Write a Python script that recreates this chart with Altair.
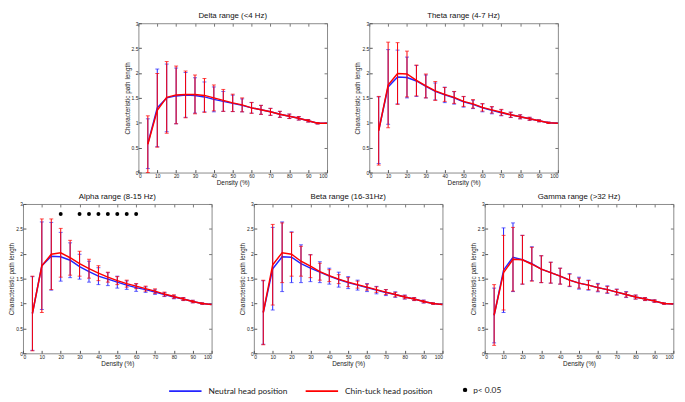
import altair as alt
import pandas as pd

# ---------------- data ----------------
density = [5, 10, 15, 20, 25, 30, 35, 40, 45, 50, 55, 60, 65, 70, 75, 80, 85, 90, 95, 100]
err_density = [5, 10, 15, 20, 25, 30, 35, 40, 45, 50, 55, 60, 65, 70, 75, 80, 85, 90, 95]

groups = ["Neutral head position", "Chin-tuck head position"]

delta_neutral_mean = [0.58, 1.30, 1.50, 1.54, 1.56, 1.55, 1.52, 1.47, 1.43, 1.39, 1.35, 1.30, 1.26, 1.22, 1.17, 1.13, 1.09, 1.04, 0.99, 0.99]
delta_neutral_sd = [0.50, 0.78, 0.68, 0.56, 0.45, 0.355, 0.30, 0.25, 0.20, 0.165, 0.13, 0.105, 0.09, 0.07, 0.06, 0.045, 0.035, 0.025, 0.015]
delta_chin_mean = [0.57, 1.25, 1.51, 1.56, 1.57, 1.57, 1.55, 1.50, 1.45, 1.40, 1.36, 1.30, 1.26, 1.22, 1.17, 1.13, 1.09, 1.04, 0.99, 0.99]
delta_chin_sd = [0.57, 0.74, 0.72, 0.58, 0.47, 0.39, 0.34, 0.26, 0.22, 0.175, 0.14, 0.11, 0.09, 0.07, 0.06, 0.045, 0.035, 0.025, 0.015]

theta_neutral_mean = [0.85, 1.72, 1.92, 1.91, 1.84, 1.73, 1.63, 1.56, 1.50, 1.42, 1.37, 1.30, 1.25, 1.20, 1.16, 1.12, 1.08, 1.04, 1.00, 0.99]
theta_neutral_sd = [0.67, 0.75, 0.54, 0.41, 0.31, 0.23, 0.17, 0.155, 0.125, 0.105, 0.085, 0.08, 0.07, 0.06, 0.055, 0.04, 0.03, 0.02, 0.015]
theta_chin_mean = [0.84, 1.76, 1.99, 1.98, 1.85, 1.74, 1.64, 1.57, 1.51, 1.43, 1.38, 1.31, 1.26, 1.21, 1.16, 1.12, 1.08, 1.04, 1.00, 0.99]
theta_chin_sd = [0.69, 0.86, 0.62, 0.46, 0.31, 0.24, 0.19, 0.14, 0.12, 0.10, 0.085, 0.075, 0.065, 0.06, 0.05, 0.04, 0.03, 0.02, 0.015]

alpha_neutral_mean = [0.80, 1.76, 1.95, 1.94, 1.87, 1.74, 1.64, 1.55, 1.49, 1.43, 1.37, 1.32, 1.28, 1.23, 1.18, 1.13, 1.09, 1.04, 1.00, 0.98]
alpha_neutral_sd = [0.74, 0.88, 0.68, 0.49, 0.35, 0.25, 0.21, 0.17, 0.13, 0.12, 0.085, 0.075, 0.055, 0.045, 0.04, 0.035, 0.03, 0.025, 0.015]
alpha_chin_mean = [0.80, 1.76, 1.99, 2.02, 1.92, 1.80, 1.70, 1.61, 1.53, 1.46, 1.40, 1.35, 1.30, 1.25, 1.19, 1.14, 1.09, 1.04, 1.00, 0.98]
alpha_chin_sd = [0.75, 0.94, 0.71, 0.49, 0.35, 0.25, 0.19, 0.15, 0.10, 0.08, 0.07, 0.05, 0.05, 0.045, 0.04, 0.035, 0.03, 0.025, 0.015]
alpha_sig_density = [20, 30, 35, 40, 45, 50, 55, 60]
alpha_sig_y = [2.8, 2.8, 2.8, 2.8, 2.8, 2.8, 2.8, 2.8]

beta_neutral_mean = [0.82, 1.70, 1.94, 1.93, 1.80, 1.71, 1.63, 1.55, 1.48, 1.42, 1.37, 1.32, 1.27, 1.22, 1.18, 1.13, 1.09, 1.04, 1.00, 0.98]
beta_neutral_sd = [0.64, 0.83, 0.70, 0.51, 0.38, 0.27, 0.21, 0.16, 0.15, 0.12, 0.10, 0.08, 0.075, 0.06, 0.055, 0.04, 0.03, 0.03, 0.015]
beta_chin_mean = [0.82, 1.78, 2.02, 1.99, 1.85, 1.75, 1.64, 1.56, 1.49, 1.43, 1.38, 1.33, 1.28, 1.23, 1.18, 1.13, 1.09, 1.04, 1.00, 0.98]
beta_chin_sd = [0.65, 0.81, 0.60, 0.44, 0.30, 0.23, 0.17, 0.12, 0.09, 0.09, 0.07, 0.06, 0.055, 0.05, 0.045, 0.035, 0.03, 0.025, 0.015]

gamma_neutral_mean = [0.76, 1.67, 1.93, 1.88, 1.80, 1.69, 1.62, 1.55, 1.47, 1.41, 1.37, 1.32, 1.28, 1.23, 1.18, 1.13, 1.09, 1.05, 1.00, 0.99]
gamma_neutral_sd = [0.55, 0.85, 0.69, 0.49, 0.34, 0.27, 0.21, 0.16, 0.13, 0.12, 0.10, 0.085, 0.075, 0.06, 0.06, 0.04, 0.03, 0.025, 0.015]
gamma_chin_mean = [0.77, 1.62, 1.89, 1.88, 1.79, 1.69, 1.62, 1.55, 1.47, 1.41, 1.37, 1.32, 1.28, 1.23, 1.18, 1.13, 1.09, 1.05, 1.00, 0.99]
gamma_chin_sd = [0.61, 0.75, 0.64, 0.49, 0.34, 0.27, 0.21, 0.16, 0.12, 0.10, 0.09, 0.07, 0.065, 0.055, 0.05, 0.04, 0.03, 0.025, 0.015]

x_ticks = [0, 10, 20, 30, 40, 50, 60, 70, 80, 90, 100]
y_ticks = [0, 0.5, 1, 1.5, 2, 2.5, 3]

# ---------------- styling ----------------
W, H = 192, 152
BLUE = "#2424ff"
RED = "#ff0000"
FONT = "Liberation Sans"
LFONT = "Lato"

XAX = alt.Axis(title="Density (%)", values=x_ticks, offset=-3, tickSize=3, domain=False, grid=False,
               labelFontSize=5, titleFontSize=6.5, labelPadding=1, titlePadding=1, minExtent=0,
               tickColor="#555555", labelColor="#222222", titleColor="#222222",
               titleFontWeight="normal", labelFont=FONT, titleFont=FONT)
YAX = alt.Axis(title="Characteristic path length", values=y_ticks, format="~g", offset=-3, tickSize=3,
               domain=False, grid=False, labelFontSize=5, titleFontSize=6.5, labelPadding=0.5,
               titlePadding=1, minExtent=0,
               tickColor="#555555", labelColor="#222222", titleColor="#222222",
               titleFontWeight="normal", labelFont=FONT, titleFont=FONT)
XTOP = alt.Axis(orient="top", values=x_ticks, offset=-3, tickSize=3, labels=False, domain=False,
                grid=False, title=None, tickColor="#777777", minExtent=0, maxExtent=0)
YRIGHT = alt.Axis(orient="right", values=y_ticks, offset=-3, tickSize=3, labels=False, domain=False,
                  grid=False, title=None, tickColor="#777777", minExtent=0, maxExtent=0)

XS = alt.Scale(domain=[0, 100], nice=False)
YS = alt.Scale(domain=[0, 3], nice=False)

COLOR = alt.Color("position:N", scale=alt.Scale(domain=groups, range=[BLUE, RED]),
                  legend=alt.Legend(title=None, orient="none", legendX=148, legendY=357,
                                    direction="horizontal", symbolType="stroke", symbolSize=1089,
                                    symbolStrokeWidth=1.8, labelFontSize=8.5, labelFont=LFONT,
                                    labelColor="#222222", columnPadding=14, labelOffset=6))


def series_layers(pos, means, sds, col):
    line_df = pd.DataFrame({"density": density, "mean": means, "position": pos})
    err_df = pd.DataFrame({
        "density": err_density,
        "lo": [m - s for m, s in zip(means, sds)],
        "hi": [m + s for m, s in zip(means, sds)],
    })
    x = alt.X("density:Q", scale=XS, axis=XAX)
    eb = alt.Chart(err_df)
    rule = eb.mark_rule(color=col, strokeWidth=1).encode(
        x=x, y=alt.Y("lo:Q", scale=YS, axis=YAX), y2="hi:Q")
    cap_lo = eb.mark_tick(orient="horizontal", size=4, thickness=1, color=col).encode(
        x=x, y=alt.Y("lo:Q", scale=YS, axis=YAX))
    cap_hi = eb.mark_tick(orient="horizontal", size=4, thickness=1, color=col).encode(
        x=x, y=alt.Y("hi:Q", scale=YS, axis=YAX))
    line = alt.Chart(line_df).mark_line(strokeWidth=1.5).encode(
        x=x, y=alt.Y("mean:Q", scale=YS, axis=YAX), color=COLOR)
    return [rule, cap_lo, cap_hi, line], line_df


def panel(title, n_mean, n_sd, c_mean, c_sd, sig=None):
    blue_layers, _ = series_layers(groups[0], n_mean, n_sd, BLUE)
    red_layers, red_df = series_layers(groups[1], c_mean, c_sd, RED)
    inner = blue_layers + red_layers
    if sig is not None:
        sig_df = pd.DataFrame({"density": sig[0], "y": sig[1], "sig": "p< 0.05"})
        inner.append(alt.Chart(sig_df).mark_point(filled=True, size=16, color="black", opacity=1).encode(
            x=alt.X("density:Q", scale=XS, axis=XAX),
            y=alt.Y("y:Q", scale=YS, axis=YAX),
            shape=alt.Shape("sig:N", scale=alt.Scale(domain=["p< 0.05"], range=["circle"]),
                            legend=alt.Legend(title=None, orient="none", legendX=446, legendY=369,
                                              symbolSize=20, symbolFillColor="black",
                                              symbolStrokeColor="black", labelFontSize=8.5,
                                              labelFont=LFONT, labelColor="#222222", labelOffset=4))))
    frame_ticks = alt.Chart(red_df).mark_line(opacity=0).encode(
        x=alt.X("density:Q", scale=XS, axis=XTOP),
        y=alt.Y("mean:Q", scale=YS, axis=YRIGHT))
    return alt.layer(alt.layer(*inner), frame_ticks).resolve_axis(
        x="independent", y="independent").properties(
        width=W, height=H,
        title=alt.TitleParams(title, fontSize=8, font=FONT, fontWeight="normal", color="#111111", offset=1))


delta = panel("Delta range (<4 Hz)", delta_neutral_mean, delta_neutral_sd, delta_chin_mean, delta_chin_sd)
theta = panel("Theta range (4-7 Hz)", theta_neutral_mean, theta_neutral_sd, theta_chin_mean, theta_chin_sd)
alpha = panel("Alpha range (8-15 Hz)", alpha_neutral_mean, alpha_neutral_sd, alpha_chin_mean, alpha_chin_sd,
              sig=(alpha_sig_density, alpha_sig_y))
beta = panel("Beta range (16-31Hz)", beta_neutral_mean, beta_neutral_sd, beta_chin_mean, beta_chin_sd)
gamma = panel("Gamma range (>32 Hz)", gamma_neutral_mean, gamma_neutral_sd, gamma_chin_mean, gamma_chin_sd)

row1 = alt.hconcat(delta, theta, spacing=24)
row2 = alt.hconcat(alpha, beta, gamma, spacing=24)

chart = alt.vconcat(row1, row2, spacing=6, center=True).properties(
    padding=0, background="white"
).configure_view(stroke="#8a8a8a", strokeWidth=1)

chart.save("out.html", embed_options={"renderer": "svg", "actions": False})
